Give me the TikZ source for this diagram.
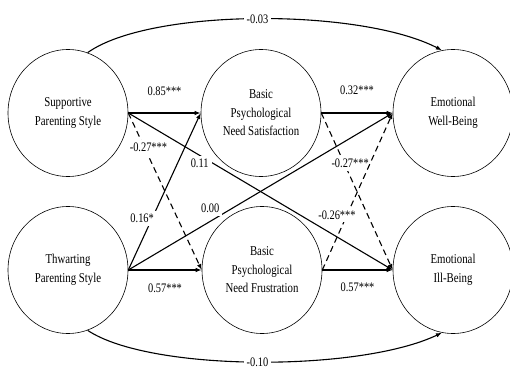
\documentclass[tikz,border=0pt]{standalone}
\usepackage{fontspec}
\setmainfont{Liberation Serif}[FakeStretch=0.8]
\usetikzlibrary{arrows.meta,positioning,shapes.geometric}
\tikzset{
  >=Stealth,
  var/.style={ellipse,draw,line width=0.6pt,minimum width=120pt,minimum height=127pt,inner sep=0pt,align=center,font=\fontsize{13.5}{18.5}\selectfont},
  eff/.style={-{Latex[length=6pt,width=4.5pt]}, line width=1.1pt},
  neg/.style={eff, dash pattern=on 6pt off 4pt},
  coef/.style={fill=white,inner sep=3pt,font=\fontsize{13}{15}\selectfont}
}
\begin{document}
\begin{tikzpicture}[x=1pt,y=-1pt]
    \useasboundingbox (0,0) rectangle (510,371);

    % Constructs
    \node[var] (sps) at (68,113) {Supportive\\Parenting Style};
    \node[var] (tps) at (68,270) {Thwarting\\Parenting Style};
    \node[var] (bns) at (261,113) {Basic\\Psychological\\Need Satisfaction};
    \node[var] (bnf) at (262,270) {Basic\\Psychological\\Need Frustration};
    \node[var] (ewb) at (453,113) {Emotional\\Well-Being};
    \node[var] (eib) at (453,270) {Emotional\\Ill-Being};

    % Parenting -> needs
    \draw[eff] (sps.east) -- (bns.west) node[coef,midway,yshift=22pt,fill=none] {0.85***};
    \draw[neg] (sps.east) -- (bnf.west) node[coef,pos=0.22,xshift=4pt] {-0.27***};
    \draw[eff] (tps.east) -- (bns.west) node[coef,pos=0.33,xshift=-10pt] {0.16*};
    \draw[eff] (tps.east) -- (bnf.west) node[coef,midway,yshift=-18pt,fill=none] {0.57***};

    % Parenting -> well-being
    \draw[eff] (sps.east) -- (eib.west) node[coef,pos=0.27,yshift=-8pt] {0.11};
    \draw[eff] (tps.east) -- (ewb.west) node[coef,pos=0.31,yshift=13pt] {0.00};

    % Needs -> well-being
    \draw[eff] (bns.east) -- (ewb.west) node[coef,midway,yshift=23pt,fill=none] {0.32***};
    \draw[neg] (bns.east) -- (eib.west) node[coef,pos=0.32,xshift=6pt] {-0.27***};
    \draw[neg] (bnf.east) -- (ewb.west) node[coef,pos=0.35,xshift=-10pt] {-0.26***};
    \draw[eff] (bnf.east) -- (eib.west) node[coef,midway,yshift=-17pt,fill=none] {0.57***};

    % Direct effects
    \draw[eff] (sps.72) .. controls (150,8) and (360,8) .. (ewb.100) node[coef,pos=0.5] {-0.03};
    \draw[eff] (tps.-72) .. controls (150,372) and (360,372) .. (eib.-100) node[coef,pos=0.5] {-0.10};

\end{tikzpicture}
\end{document}
